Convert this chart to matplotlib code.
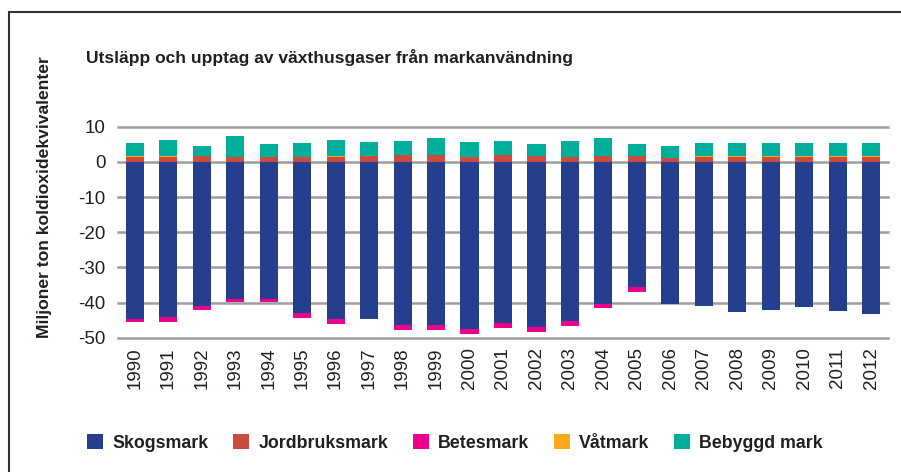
#Stacked bar chart: emissions and removals from land use (Sweden)
import numpy as np
import matplotlib
matplotlib.use('Agg')
import matplotlib.pyplot as plt
from matplotlib.patches import Patch, Rectangle

plt.rcParams['font.family'] = ['Liberation Sans', 'DejaVu Sans']
plt.rcParams['axes.unicode_minus'] = False

#Data
years = [str(y) for y in range(1990, 2013)]
skogsmark = [-44.7, -44.1, -41.0, -39.0, -39.0, -43.0, -44.7, -44.7, -46.4, -46.4, -47.5, -45.8,
             -47.0, -45.3, -40.4, -35.6, -40.4, -41.0, -42.7, -42.1, -41.3, -42.4, -43.3]
jordbruksmark = [1.3, 1.3, 1.6, 1.3, 1.3, 1.3, 1.3, 1.6, 1.9, 1.9, 1.3, 1.9,
                 1.6, 1.3, 1.6, 1.6, 1.1, 1.3, 1.3, 1.3, 1.3, 1.3, 1.3]
betesmark = [-0.9, -1.4, -1.1, -0.9, -0.9, -1.4, -1.4, 0.0, -1.4, -1.4, -1.4, -1.4,
             -1.4, -1.4, -1.1, -1.4, 0.0, 0.0, 0.0, 0.0, 0.0, 0.0, 0.0]
vatmark = [0.5, 0.5, 0.0, 0.0, 0.0, 0.0, 0.5, 0.0, 0.0, 0.0, 0.0, 0.0,
           0.0, 0.0, 0.0, 0.0, 0.0, 0.5, 0.5, 0.5, 0.5, 0.5, 0.5]
bebyggd = [3.5, 4.35, 2.85, 6.0, 3.7, 4.0, 4.35, 4.0, 4.0, 4.8, 4.3, 4.0,
           3.4, 4.6, 5.1, 3.4, 3.35, 3.5, 3.5, 3.5, 3.5, 3.5, 3.5]

labels = ['Skogsmark', 'Jordbruksmark', 'Betesmark', 'Våtmark', 'Bebyggd mark']
colors = ['#253F8E', '#CB4B3C', '#EC008C', '#FBAA19', '#00AF9B']

fig = plt.figure(figsize=(9.01, 4.72), dpi=100)
ax = fig.add_axes([118/901, 1-337.7/472, 770/901, 211/472])

x = np.arange(len(years))
w = 0.54
sk = np.array(skogsmark)
jb = np.array(jordbruksmark)
bt = np.array(betesmark)
vt = np.array(vatmark)
bb = np.array(bebyggd)

#negative parts stack downwards, positive parts upwards
ax.bar(x, sk, w, color=colors[0], zorder=2)
ax.bar(x, bt, w, bottom=sk, color=colors[2], zorder=2)
ax.bar(x, jb, w, color=colors[1], zorder=2)
ax.bar(x, vt, w, bottom=jb, color=colors[3], zorder=2)
ax.bar(x, bb, w, bottom=jb + vt, color=colors[4], zorder=2)

ax.set_xlim(-0.5, len(years) - 0.5)
ax.set_ylim(-50, 10)
ax.set_yticks(range(-50, 11, 10))
ax.set_xticks(x)
ax.set_xticklabels(years, rotation=90)
ax.tick_params(axis='both', length=0, labelsize=13.5, colors='#231F20')
ax.tick_params(axis='y', pad=9)
ax.tick_params(axis='x', pad=7)
for s in ax.spines.values():
    s.set_visible(False)
ax.yaxis.grid(True, color='#9D9D9D', linewidth=1.8, zorder=0)
ax.set_axisbelow(True)
for gl in ax.get_ygridlines():
    gl.set_clip_on(False)

fig.text(86/901, 1-57/472, 'Utsläpp och upptag av växthusgaser från markanvändning',
         fontsize=12.5, fontweight='bold', color='#231F20', ha='left', va='center')
fig.text(45/901, 1-197.5/472, 'Miljoner ton koldioxidekvivalenter', rotation=90,
         fontsize=12.6, fontweight='bold', color='#231F20', ha='center', va='center')

handles = [Patch(facecolor=c, edgecolor='none') for c in colors]
fig.legend(handles, labels, loc='center', bbox_to_anchor=(455/901, 1-443/472), ncol=5,
           frameon=False, prop={'weight': 'bold', 'size': 12.8}, handlelength=0.9,
           handleheight=0.85, handletextpad=0.5, columnspacing=1.4, labelcolor='#231F20')

#outer frame
fig.patches.append(Rectangle((9/901, -0.1), 2, 1.1 - 12/472, transform=fig.transFigure,
                             fill=False, edgecolor='#333333', linewidth=1.5))

fig.savefig('out.png', dpi=100)
